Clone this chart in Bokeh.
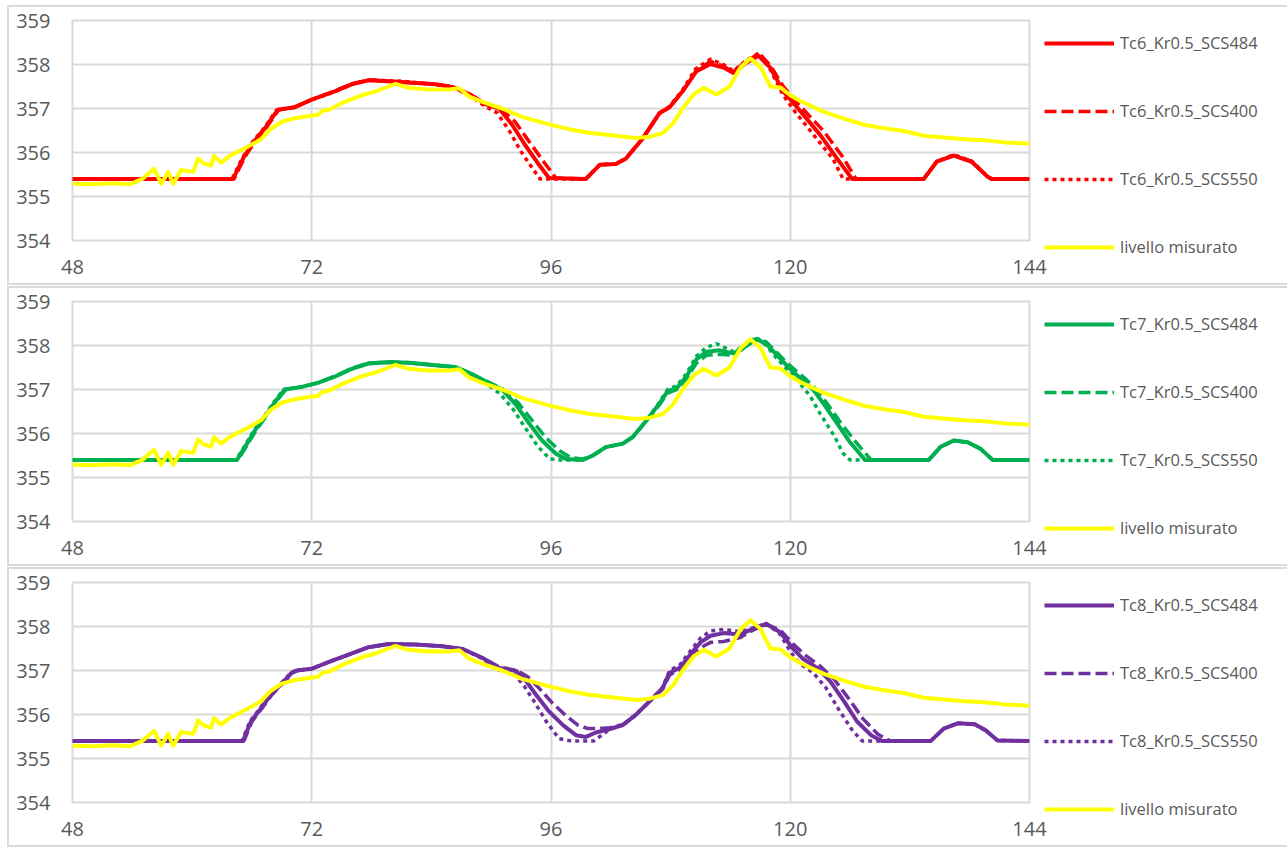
from bokeh.plotting import figure
from bokeh.models import Legend, LegendItem, FixedTicker, Range1d
from bokeh.layouts import column
from bokeh.embed import file_html
from bokeh.resources import INLINE

# ---------------- data ----------------
x_ticks = [48, 72, 96, 120, 144]
y_ticks = [354, 355, 356, 357, 358, 359]

# measured level (same in all panels)
xm = [48, 50, 52, 53.8, 55, 56.2, 56.9, 57.6, 58.1, 58.9, 60.1, 60.6, 61.2, 61.9, 62.2, 62.9, 63.9, 64.9, 65.9, 66.9,
      67.9, 69.0, 70.3, 72, 72.6, 73, 73.7, 74.3, 75.3, 77, 78.3, 79.7, 80.4, 81.7, 83.7, 85.8, 86.8, 87.8, 89.4, 91.1,
      93.1, 95.8, 97.8, 99.8, 102.5, 104.5, 105.9, 107.2, 108.2, 109.2, 110.3, 111.3, 112.6, 113.9, 115.0, 116.0, 117.0,
      118, 119, 120, 121, 123.3, 125.4, 127.4, 129.4, 131.4, 133.4, 135.4, 137.5, 139.5, 141.5, 144]
ym = [355.29, 355.28, 355.3, 355.28, 355.4, 355.63, 355.29, 355.56, 355.29, 355.6, 355.56, 355.86, 355.75, 355.70,
      355.92, 355.77, 355.94, 356.05, 356.17, 356.30, 356.54, 356.70, 356.78, 356.84, 356.85, 356.94, 356.97, 357.04,
      357.15, 357.30, 357.38, 357.5, 357.56, 357.47, 357.43, 357.43, 357.46, 357.27, 357.13, 357.0, 356.81, 356.64,
      356.53, 356.45, 356.38, 356.33, 356.36, 356.44, 356.65, 357.0, 357.32, 357.47, 357.32, 357.5, 357.93, 358.14,
      357.95, 357.5, 357.48, 357.30, 357.17, 356.93, 356.77, 356.63, 356.55, 356.49, 356.38, 356.34, 356.30, 356.28,
      356.23, 356.2]

# Tc6
x6s = [48, 64.1, 65.2, 66.2, 67.3, 68.0, 68.6, 70.3, 72, 74.3, 76, 77.7, 81, 84.4, 86.1, 87.8, 89.4, 90.8, 92.1, 93.4,
       94.8, 95.8, 99.5, 100.9, 102.5, 103.5, 105.2, 106.9, 107.9, 109.2, 110.6, 112, 113.3, 114.3, 115.6, 116.8, 118,
       119.3, 120.6, 123.0, 124.7, 126.2, 133.4, 134.7, 136.4, 138.2, 139.8, 140.2, 144]
y6s = [355.4, 355.4, 355.9, 356.25, 356.55, 356.78, 356.97, 357.03, 357.2, 357.39, 357.55, 357.64, 357.6, 357.55,
       357.49, 357.33, 357.1, 357.0, 356.63, 356.17, 355.72, 355.42, 355.4, 355.72, 355.74, 355.86, 356.32, 356.9,
       357.03, 357.39, 357.85, 358.01, 357.93, 357.81, 358.04, 358.2, 357.93, 357.39, 357.05, 356.4, 355.86, 355.4,
       355.4, 355.79, 355.93, 355.79, 355.45, 355.4, 355.4]
x6d = [48, 64.2, 65.3, 66.3, 67.4, 68.1, 68.7, 70.3, 72, 74.3, 76, 77.7, 81, 84.4, 86.1, 87.8, 89.4, 90.9, 92.4, 93.8,
       95.3, 96.5, 99.5, 100.9, 102.5, 103.5, 105.2, 106.9, 107.9, 109.2, 110.6, 112, 113.3, 114.3, 115.6, 116.9, 118,
       119.3, 120.8, 123.3, 125.2, 126.6, 133.4, 134.7, 136.4, 138.2, 139.8, 140.2, 144]
y6d = [355.4, 355.4, 355.9, 356.25, 356.55, 356.78, 356.97, 357.03, 357.2, 357.4, 357.56, 357.65, 357.6, 357.55,
       357.49, 357.33, 357.12, 357.0, 356.7, 356.25, 355.78, 355.42, 355.4, 355.72, 355.74, 355.86, 356.32, 356.9,
       357.03, 357.39, 357.87, 358.07, 357.96, 357.83, 358.08, 358.25, 357.98, 357.5, 357.1, 356.5, 355.92, 355.4,
       355.4, 355.8, 355.93, 355.8, 355.45, 355.4, 355.4]
x6t = [48, 64.0, 65.1, 66.1, 67.2, 67.9, 68.5, 70.3, 72, 74.3, 76, 77.7, 81, 84.4, 86.1, 87.8, 89.4, 90.6, 91.8, 93.0,
       94.2, 94.9, 99.5, 100.9, 102.5, 103.5, 105.2, 106.9, 107.9, 109.2, 110.5, 112, 113.3, 114.3, 115.6, 116.9, 118,
       119.3, 120.5, 122.7, 124.3, 125.3, 133.4, 134.7, 136.4, 138.2, 139.8, 140.2, 144]
y6t = [355.4, 355.4, 355.9, 356.25, 356.55, 356.78, 356.97, 357.03, 357.2, 357.38, 357.55, 357.65, 357.62, 357.55,
       357.49, 357.3, 357.05, 356.9, 356.5, 356.02, 355.62, 355.4, 355.4, 355.72, 355.74, 355.86, 356.32, 356.9,
       357.05, 357.42, 357.9, 358.12, 358.0, 357.85, 358.1, 358.27, 357.88, 357.3, 356.92, 356.3, 355.85, 355.4,
       355.4, 355.8, 355.95, 355.8, 355.45, 355.4, 355.4]

# Tc7
x7s = [48, 64.5, 65.3, 66.3, 67.3, 68.1, 68.8, 69.3, 71, 72.6, 74.3, 76, 77.7, 79.7, 81.7, 84.4, 86.4, 87.8, 89.4, 91.1,
       92.5, 93.8, 95.1, 96.5, 97.5, 99.2, 100.2, 101.5, 103.2, 104.2, 105.6, 106.9, 107.7, 108.6, 109.6, 110.6, 111.6,
       112.9, 114.3, 115.6, 116.6, 117.6, 118.6, 119.7, 120.7, 121.3, 122.3, 123.3, 124.7, 126, 127.5, 133.9, 135.1,
       136.4, 137.8, 139.1, 140.3, 144]
y7s = [355.4, 355.4, 355.69, 356.07, 356.38, 356.65, 356.86, 357.0, 357.06, 357.15, 357.29, 357.47, 357.59, 357.62,
       357.61, 357.55, 357.51, 357.38, 357.19, 357.0, 356.65, 356.23, 355.84, 355.54, 355.42, 355.4, 355.5, 355.69,
       355.77, 355.92, 356.3, 356.69, 356.96, 357.03, 357.3, 357.69, 357.86, 357.89, 357.82, 357.99, 358.15, 358.03,
       357.8, 357.53, 357.32, 357.19, 357.0, 356.69, 356.23, 355.8, 355.4, 355.4, 355.7, 355.84, 355.8, 355.65, 355.4,
       355.4]
x7d = [48, 64.6, 65.4, 66.4, 67.4, 68.2, 68.9, 69.4, 71, 72.6, 74.3, 76, 77.7, 79.7, 81.7, 84.4, 86.4, 87.8, 89.4, 91.1,
       92.7, 94.1, 95.5, 96.9, 98.0, 99.2, 100.2, 101.5, 103.2, 104.2, 105.6, 106.9, 107.7, 108.6, 109.6, 110.6, 111.6,
       112.9, 114.3, 115.6, 116.6, 117.6, 118.6, 119.7, 120.7, 121.5, 122.6, 123.8, 125.2, 126.6, 128.1, 133.9, 135.1,
       136.4, 137.8, 139.1, 140.3, 144]
y7d = [355.4, 355.4, 355.69, 356.07, 356.38, 356.65, 356.86, 357.0, 357.06, 357.15, 357.3, 357.48, 357.6, 357.63,
       357.61, 357.55, 357.51, 357.38, 357.2, 357.02, 356.7, 356.3, 355.9, 355.6, 355.45, 355.42, 355.5, 355.69, 355.77,
       355.92, 356.3, 356.66, 356.92, 357.0, 357.25, 357.6, 357.78, 357.8, 357.78, 357.98, 358.15, 358.08, 357.85,
       357.6, 357.4, 357.25, 357.0, 356.65, 356.2, 355.8, 355.4, 355.4, 355.7, 355.84, 355.8, 355.65, 355.4, 355.4]
x7t = [48, 64.4, 65.2, 66.2, 67.2, 68.0, 68.7, 69.2, 71, 72.6, 74.3, 76, 77.7, 79.7, 81.7, 84.4, 86.4, 87.8, 89.4, 90.9,
       92.2, 93.5, 94.7, 95.9, 97.0, 99.2, 100.2, 101.5, 103.2, 104.2, 105.6, 106.9, 107.7, 108.6, 109.6, 110.6, 111.6,
       112.6, 114.3, 115.6, 116.6, 117.6, 118.6, 119.7, 120.7, 121.1, 122.0, 123.0, 124.4, 125.3, 126.0, 133.9, 135.1,
       136.4, 137.8, 139.1, 140.3, 144]
y7t = [355.4, 355.4, 355.69, 356.07, 356.38, 356.65, 356.86, 357.0, 357.06, 357.15, 357.29, 357.47, 357.6, 357.62,
       357.61, 357.55, 357.51, 357.36, 357.15, 356.9, 356.55, 356.1, 355.7, 355.42, 355.4, 355.4, 355.5, 355.69, 355.77,
       355.92, 356.3, 356.72, 357.0, 357.08, 357.36, 357.76, 357.96, 358.04, 357.86, 358.02, 358.19, 358.0, 357.72,
       357.45, 357.25, 357.1, 356.85, 356.45, 355.95, 355.55, 355.4, 355.4, 355.7, 355.84, 355.8, 355.65, 355.4, 355.4]

# Tc8
x8s = [48, 65.1, 65.9, 66.9, 67.9, 68.9, 70.0, 70.5, 72, 74, 75.7, 77.7, 79.7, 82.4, 85.1, 87.1, 89.1, 90.8, 92.5, 93.5,
       94.5, 95.8, 97.2, 98.5, 99.5, 100.5, 101.9, 103.2, 104.5, 105.9, 107.2, 107.9, 108.9, 110, 111, 112, 113.3, 115.0,
       116.3, 117.6, 119, 120.3, 121.3, 122.7, 124, 125.4, 126.7, 128.1, 129.2, 134.1, 135.4, 136.8, 138.5, 139.6,
       140.8, 144]
y8s = [355.4, 355.4, 355.84, 356.14, 356.45, 356.68, 356.95, 357.0, 357.04, 357.22, 357.36, 357.53, 357.6, 357.59,
       357.55, 357.49, 357.29, 357.06, 356.99, 356.76, 356.45, 356.07, 355.76, 355.53, 355.49, 355.59, 355.67, 355.76,
       355.99, 356.3, 356.6, 356.95, 357.06, 357.37, 357.64, 357.79, 357.85, 357.82, 357.95, 358.06, 357.87, 357.49,
       357.26, 357.06, 356.76, 356.3, 355.84, 355.53, 355.4, 355.4, 355.68, 355.8, 355.78, 355.64, 355.41, 355.4]
x8d = [48, 65.2, 66.0, 67.0, 68.0, 69.0, 70.1, 70.6, 72, 74, 75.7, 77.7, 79.7, 82.4, 85.1, 87.1, 89.1, 90.8, 92.6, 93.7,
       94.8, 96.1, 97.5, 98.7, 99.7, 100.7, 101.9, 103.2, 104.5, 105.9, 107.2, 107.9, 108.9, 110, 111, 112, 113.3, 115.0,
       116.3, 117.6, 119, 120.3, 121.5, 123.0, 124.4, 125.9, 127.3, 128.8, 130.0, 134.1, 135.4, 136.8, 138.5, 139.6,
       140.8, 144]
y8d = [355.4, 355.4, 355.84, 356.14, 356.45, 356.68, 356.95, 357.0, 357.04, 357.22, 357.36, 357.53, 357.6, 357.59,
       357.55, 357.49, 357.29, 357.08, 357.0, 356.85, 356.6, 356.27, 355.97, 355.76, 355.68, 355.68, 355.7, 355.77,
       355.99, 356.3, 356.58, 356.9, 357.02, 357.3, 357.52, 357.64, 357.66, 357.75, 357.92, 358.05, 357.92, 357.6,
       357.35, 357.1, 356.8, 356.35, 355.9, 355.55, 355.4, 355.4, 355.68, 355.8, 355.78, 355.64, 355.41, 355.4]
x8t = [48, 65.0, 65.8, 66.8, 67.8, 68.8, 69.9, 70.4, 72, 74, 75.7, 77.7, 79.7, 82.4, 85.1, 87.1, 89.1, 90.7, 92.3, 93.3,
       94.3, 95.5, 96.8, 98.0, 100.3, 101.2, 101.9, 103.2, 104.5, 105.9, 107.2, 107.9, 108.9, 110, 111, 112, 113.3, 115.0,
       116.3, 117.6, 119, 120.1, 121.0, 122.3, 123.6, 124.9, 126.2, 127.2, 134.1, 135.4, 136.8, 138.5, 139.6, 140.8, 144]
y8t = [355.4, 355.4, 355.84, 356.14, 356.45, 356.68, 356.95, 357.0, 357.04, 357.22, 357.36, 357.53, 357.6, 357.59,
       357.55, 357.49, 357.27, 357.02, 356.92, 356.65, 356.3, 355.85, 355.45, 355.4, 355.4, 355.55, 355.67, 355.76,
       355.99, 356.3, 356.62, 357.0, 357.12, 357.45, 357.74, 357.9, 357.93, 357.88, 357.97, 358.07, 357.82, 357.4,
       357.15, 356.95, 356.6, 356.1, 355.65, 355.4, 355.4, 355.68, 355.8, 355.78, 355.64, 355.41, 355.4]

panels = [
    ("Tc6", "#FF0000", (x6s, y6s), (x6d, y6d), (x6t, y6t)),
    ("Tc7", "#00B050", (x7s, y7s), (x7d, y7d), (x7t, y7t)),
    ("Tc8", "#7030A0", (x8s, y8s), (x8d, y8d), (x8t, y8t)),
]
suffixes = ["_Kr0.5_SCS484", "_Kr0.5_SCS400", "_Kr0.5_SCS550"]
measured_label = "livello misurato"

GRID = "#d9d9d9"
TXT = "#595959"
FONT = "Open Sans"


def make_panel(name, color, solid, dashed, dotted):
    p = figure(frame_width=953, frame_height=216, output_backend="svg", toolbar_location=None,
               x_range=Range1d(48, 144), y_range=Range1d(354, 359),
               min_border_left=63, min_border_right=258, min_border_top=13, min_border_bottom=47,
               background_fill_color="white", border_fill_color="white",
               styles={"border": "2px solid #d9d9d9"})
    p.outline_line_color = GRID
    p.outline_line_width = 2
    p.xaxis.ticker = FixedTicker(ticks=x_ticks)
    p.yaxis.ticker = FixedTicker(ticks=y_ticks)
    for ax in (p.xaxis, p.yaxis):
        ax.axis_line_color = None
        ax.major_tick_line_color = None
        ax.minor_tick_line_color = None
        ax.major_tick_out = 0
        ax.major_tick_in = 0
        ax.major_label_text_font = FONT
        ax.major_label_text_font_size = "20px"
        ax.major_label_text_color = TXT
    p.xaxis.major_label_standoff = 19
    p.yaxis.major_label_standoff = 22
    p.xgrid.grid_line_color = GRID
    p.ygrid.grid_line_color = GRID
    p.xgrid.grid_line_width = 2
    p.ygrid.grid_line_width = 2

    r1 = p.line(solid[0], solid[1], line_color=color, line_width=4, line_join="round")
    r2 = p.line(dashed[0], dashed[1], line_color=color, line_width=3.5, line_dash="12 5", line_join="round")
    r3 = p.line(dotted[0], dotted[1], line_color=color, line_width=3.5, line_dash="4 4", line_join="round")
    r4 = p.line(xm, ym, line_color="#FFFF00", line_width=4, line_join="round")

    legend = Legend(items=[
        LegendItem(label=name + suffixes[0], renderers=[r1]),
        LegendItem(label=name + suffixes[1], renderers=[r2]),
        LegendItem(label=name + suffixes[2], renderers=[r3]),
        LegendItem(label=measured_label, renderers=[r4]),
    ], location=(15, -18), orientation="vertical",
        glyph_width=70, glyph_height=20, label_height=20, spacing=45,
        label_standoff=6, padding=0, margin=0,
        border_line_color=None, background_fill_alpha=0,
        label_text_font=FONT, label_text_font_size="16.5px", label_text_color=TXT)
    p.add_layout(legend, "right")
    return p


figs = [make_panel(*pn) for pn in panels]
layout = column(*figs, spacing=1, styles={"padding-top": "5px", "padding-left": "7px"})

open("out.html", "w").write(file_html(layout, INLINE))
